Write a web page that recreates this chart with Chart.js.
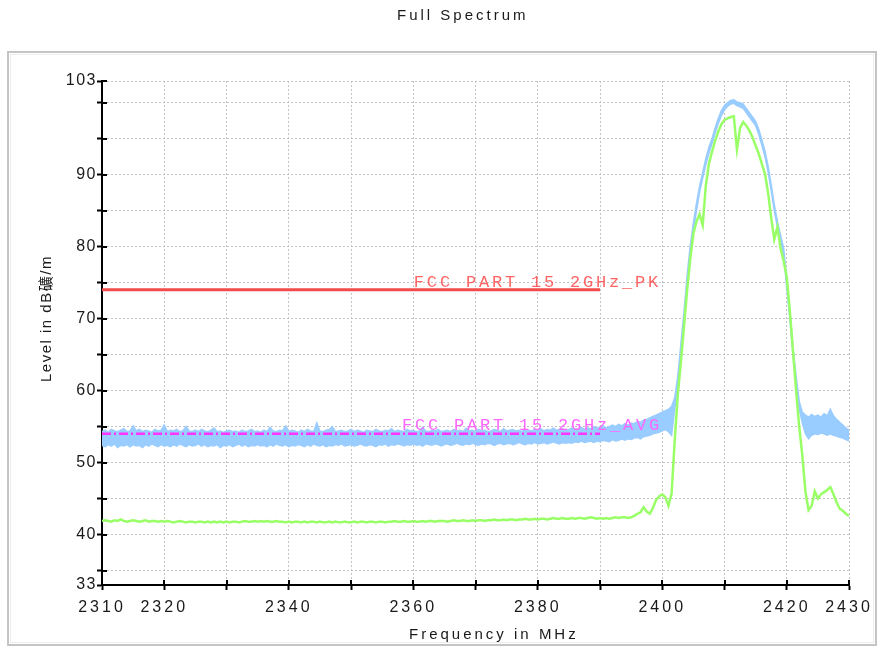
<!DOCTYPE html>
<html>
<head>
<meta charset="utf-8">
<script src="https://cdn.jsdelivr.net/npm/chart.js@4.4.0/dist/chart.umd.min.js"></script>
<style>
  html, body { margin: 0; padding: 0; background: #fff; }
  canvas { display: block; }
</style>
</head>
<body>
<canvas id="myChart" width="878" height="646"></canvas>
<script>
// sweep: 2310 MHz .. 2430 MHz, one reading every 0.5 MHz
var sweepStart = 2310;
var sweepStep = 0.5;

// peak detector trace (max hold), upper and lower edge of the noisy band
var peakMax = [
    54.3, 54.5, 54.2, 54.6, 54.4, 54.3, 54.5, 54.7, 54.3, 54.4,
    55.1, 54.4, 54.6, 54.3, 54.5, 54.4, 54.2, 54.6, 54.4, 54.5,
    55.2, 54.3, 54.5, 54.4, 54.6, 54.3, 54.4, 55.0, 54.4, 54.3,
    54.5, 54.3, 54.6, 54.4, 54.3, 54.5, 54.8, 54.3, 54.4, 54.2,
    54.4, 54.5, 54.3, 54.4, 54.2, 54.5, 54.3, 54.4, 54.6, 54.3,
    54.4, 54.2, 54.5, 54.3, 54.9, 54.4, 54.3, 54.5, 54.4, 55.1,
    54.3, 54.5, 54.4, 54.2, 54.5, 54.3, 54.6, 54.4, 54.3, 55.5,
    54.4, 54.3, 54.5, 54.6, 55.0, 54.3, 54.4, 54.5, 54.3, 54.4,
    54.6, 54.3, 54.5, 54.4, 54.2, 54.5, 54.4, 54.3, 54.6, 54.4,
    54.3, 54.5, 54.4, 54.7, 54.3, 54.5, 54.4, 54.3, 54.6, 54.4,
    54.5, 54.3, 54.4, 54.9, 54.4, 54.3, 54.5, 54.4, 54.6, 54.3,
    54.4, 54.5, 54.3, 54.6, 54.4, 54.5, 54.3, 54.8, 54.4, 54.5,
    54.3, 54.6, 54.4, 54.5, 54.3, 54.4, 54.6, 54.5, 54.3, 54.7,
    54.4, 54.5, 54.6, 54.4, 54.5, 54.3, 54.6, 54.5, 54.4, 54.6,
    54.5, 54.7, 54.4, 54.6, 54.5, 54.8, 54.5, 54.6, 54.7, 54.5,
    54.6, 54.8, 54.6, 54.7, 54.9, 54.6, 54.8, 54.7, 55.0, 54.8,
    54.9, 55.1, 54.8, 55.0, 55.2, 55.0, 55.3, 55.1, 55.4, 55.2,
    55.5, 55.4, 55.7, 55.6, 55.9, 56.0, 56.2, 56.4, 56.6, 56.8,
    57.0, 57.2, 57.4, 57.8, 59.0, 62.0, 66.5, 71.0, 76.0, 80.1,
    83.3, 86.0, 88.4, 90.3, 92.2, 93.8, 95.0, 96.5, 97.8, 98.9,
    99.6, 100.0, 100.3, 100.4, 100.1, 100.0, 99.8, 99.2, 98.6, 98.0,
    97.4, 96.3, 94.8, 93.3, 91.2, 88.6, 85.8, 83.5, 81.6, 79.8,
    75.3, 71.0, 66.0, 62.0, 58.5, 57.0, 56.6, 56.3, 56.7, 56.4,
    56.6, 56.3, 56.8, 56.5, 57.4, 56.5, 56.0, 55.6, 55.2, 54.8,
    54.5
];
var peakMin = [
    52.4, 52.2, 52.5, 52.3, 52.6, 52.1, 52.4, 52.3, 52.5, 52.2,
    52.5, 52.3, 52.4, 52.1, 52.5, 52.3, 52.6, 52.4, 52.2, 52.5,
    52.3, 52.4, 52.2, 52.5, 52.3, 52.6, 52.4, 52.2, 52.5, 52.3,
    52.4, 52.6, 52.3, 52.5, 52.2, 52.4, 52.3, 52.5, 52.1, 52.4,
    52.3, 52.5, 52.2, 52.4, 52.6, 52.3, 52.5, 52.2, 52.4, 52.3,
    52.5, 52.3, 52.4, 52.2, 52.5, 52.3, 52.6, 52.4, 52.3, 52.5,
    52.2, 52.4, 52.3, 52.5, 52.4, 52.2, 52.5, 52.3, 52.6, 52.4,
    52.3, 52.5, 52.2, 52.4, 52.3, 52.5, 52.4, 52.6, 52.3, 52.4,
    52.5, 52.3, 52.4, 52.6, 52.4, 52.3, 52.5, 52.4, 52.2, 52.5,
    52.4, 52.6, 52.3, 52.5, 52.4, 52.6, 52.5, 52.3, 52.5, 52.4,
    52.6, 52.4, 52.5, 52.3, 52.6, 52.5, 52.4, 52.6, 52.5, 52.3,
    52.5, 52.6, 52.4, 52.5, 52.7, 52.5, 52.4, 52.6, 52.5, 52.7,
    52.5, 52.4, 52.6, 52.5, 52.7, 52.6, 52.4, 52.6, 52.7, 52.5,
    52.6, 52.7, 52.5, 52.6, 52.8, 52.6, 52.5, 52.7, 52.6, 52.8,
    52.6, 52.7, 52.8, 52.6, 52.7, 52.9, 52.7, 52.6, 52.8, 52.7,
    52.8, 52.7, 52.9, 52.8, 53.0, 52.8, 52.9, 53.0, 52.8, 53.0,
    52.9, 53.1, 53.0, 52.9, 53.2, 53.0, 53.1, 53.3, 53.1, 53.3,
    53.2, 53.4, 53.5, 53.3, 53.6, 53.7, 53.8, 54.0, 54.1, 54.2,
    54.4, 54.6, 54.3, 53.8, 57.5, 60.5, 65.0, 69.5, 74.5, 79.0,
    82.3, 85.0, 87.6, 89.5, 91.4, 93.0, 94.3, 95.8, 97.1, 98.2,
    99.0, 99.5, 99.8, 99.9, 99.6, 99.4, 99.2, 98.6, 98.0, 97.4,
    96.8, 95.6, 94.1, 92.5, 90.4, 87.8, 85.0, 82.7, 80.8, 78.9,
    74.3, 70.0, 65.0, 61.0, 57.5, 55.5, 54.0, 53.3, 53.8, 54.0,
    53.9, 54.1, 54.0, 53.8, 54.0, 53.8, 53.7, 53.5, 53.4, 53.2,
    53.0
];
// average detector trace
var average = [
    41.9, 42.0, 41.9, 41.8, 42.0, 41.9, 42.1, 41.9, 41.8, 41.9,
    42.0, 41.9, 41.8, 41.9, 42.0, 41.8, 41.9, 41.9, 41.8, 41.9,
    41.8, 41.9, 41.8, 41.7, 41.8, 41.9, 41.8, 41.7, 41.8, 41.8,
    41.7, 41.8, 41.8, 41.7, 41.8, 41.7, 41.8, 41.7, 41.8, 41.7,
    41.8, 41.7, 41.8, 41.8, 41.7, 41.8, 41.9, 41.8, 41.8, 41.9,
    41.8, 41.9, 41.8, 41.9, 41.8, 41.8, 41.9, 41.8, 41.8, 41.7,
    41.8, 41.7, 41.8, 41.8, 41.7, 41.8, 41.7, 41.8, 41.8, 41.7,
    41.8, 41.7, 41.7, 41.8, 41.7, 41.8, 41.7, 41.7, 41.8, 41.7,
    41.7, 41.8, 41.7, 41.8, 41.8, 41.7, 41.8, 41.8, 41.7, 41.8,
    41.8, 41.7, 41.8, 41.8, 41.9, 41.8, 41.8, 41.9, 41.8, 41.8,
    41.9, 41.8, 41.8, 41.9, 41.8, 41.9, 41.9, 41.8, 41.9, 41.9,
    41.9, 41.8, 41.9, 42.0, 41.9, 41.9, 42.0, 41.9, 41.9, 42.0,
    41.9, 42.0, 42.0, 41.9, 42.0, 42.0, 42.1, 42.0, 42.0, 42.1,
    42.0, 42.1, 42.1, 42.0, 42.1, 42.1, 42.2, 42.1, 42.1, 42.2,
    42.1, 42.2, 42.2, 42.1, 42.2, 42.3, 42.2, 42.2, 42.3, 42.2,
    42.2, 42.3, 42.2, 42.3, 42.3, 42.2, 42.3, 42.4, 42.3, 42.2,
    42.3, 42.2, 42.3, 42.2, 42.3, 42.4, 42.3, 42.4, 42.4, 42.3,
    42.4, 42.6, 42.9, 43.1, 43.8, 43.2, 42.9, 43.7, 44.8, 45.3,
    45.6, 45.2, 44.0, 45.7, 53.0, 59.5, 64.0, 69.0, 74.0, 78.3,
    81.8, 83.5, 84.5, 83.0, 88.5, 91.5, 93.2, 94.7, 96.0, 97.0,
    97.6, 97.8, 98.0, 98.1, 93.5, 96.5, 97.3, 96.8, 96.1, 95.2,
    94.0, 92.9, 91.5, 90.1, 87.5, 84.0, 81.0, 82.7, 79.8, 78.0,
    75.8, 71.0, 65.5, 60.0, 55.0, 51.0, 46.0, 43.4, 44.0, 46.0,
    45.0, 45.6, 45.9, 46.2, 46.6, 45.6, 44.5, 43.6, 43.3, 42.9,
    42.6
];

// limit lines
var limitFreq = [2310, 2390];
var pkLimit = [74, 74];
var avgLimit = [54, 54];
var pkLabel = 'FCC PART 15 2GHz_PK';
var avgLabel = 'FCC PART 15 2GHz_AVG';
var pkLabelFreq = 2360.1;
var avgLabelFreq = 2358.2;

// axes
var xTicks = [2310, 2320, 2330, 2340, 2350, 2360, 2370, 2380, 2390, 2400, 2410, 2420, 2430];
var xLabels = [2310, 2320, 2340, 2360, 2380, 2400, 2420, 2430];
var yTicks = [33, 35, 40, 45, 50, 55, 60, 65, 70, 75, 80, 85, 90, 95, 100, 103];
var yLabels = [33, 40, 50, 60, 70, 80, 90, 103];

function sweepPoints(values) {
    return values.map(function (v, i) {
        return { x: sweepStart + i * sweepStep, y: v };
    });
}
function limitPoints(values) {
    return values.map(function (v, i) {
        return { x: limitFreq[i], y: v };
    });
}

function spaceLabels(scale, spacing) {
    if (scale._spaced) return;
    var orig = scale.drawLabels;
    scale.drawLabels = function (area) {
        var c = this.ctx;
        c.save();
        c.letterSpacing = spacing;
        orig.call(this, area);
        c.restore();
    };
    scale._spaced = true;
}

var decoration = {
    id: 'decoration',
    beforeDraw: function (chart) {
        var ctx = chart.ctx;
        ctx.save();
        ctx.fillStyle = '#fff';
        ctx.fillRect(0, 0, chart.width, chart.height);
        // frame round the plot
        ctx.strokeStyle = '#c4c4c4';
        ctx.lineWidth = 2;
        ctx.strokeRect(8, 52, 868, 593);
        ctx.strokeStyle = '#ececec';
        ctx.lineWidth = 1;
        ctx.strokeRect(10.5, 54.5, 863, 588);
        ctx.restore();
        spaceLabels(chart.scales.x, '3px');
        spaceLabels(chart.scales.y, '1.5px');
    },
    afterDatasetsDraw: function (chart) {
        var ctx = chart.ctx;
        var xs = chart.scales.x, ys = chart.scales.y;
        ctx.save();
        ctx.font = '17px "Liberation Mono"';
        ctx.letterSpacing = '2.8px';
        ctx.textAlign = 'left';
        ctx.textBaseline = 'alphabetic';
        ctx.fillStyle = '#ff6464';
        ctx.fillText(pkLabel, xs.getPixelForValue(pkLabelFreq), ys.getPixelForValue(pkLimit[0]) - 3);
        ctx.fillStyle = '#ff66ff';
        ctx.fillText(avgLabel, xs.getPixelForValue(avgLabelFreq), ys.getPixelForValue(avgLimit[0]) - 4);
        ctx.restore();
    },
    afterDraw: function (chart) {
        var ctx = chart.ctx;
        var xs = chart.scales.x, ys = chart.scales.y, a = chart.chartArea;
        ctx.save();
        // tick marks cross the axes: inner halves
        ctx.strokeStyle = '#000';
        ctx.lineWidth = 2;
        ctx.beginPath();
        yTicks.forEach(function (v) {
            var p = Math.round(ys.getPixelForValue(v));
            ctx.moveTo(a.left, p);
            ctx.lineTo(a.left + 5, p);
        });
        xTicks.forEach(function (v) {
            var p = Math.round(xs.getPixelForValue(v));
            ctx.moveTo(p, a.bottom);
            ctx.lineTo(p, a.bottom - 5);
        });
        ctx.stroke();

        // titles
        ctx.fillStyle = '#1a1a1a';
        ctx.textAlign = 'left';
        ctx.textBaseline = 'middle';
        ctx.font = '15px "Liberation Sans"';
        ctx.letterSpacing = '3px';
        ctx.fillText('Full Spectrum', 397, 16);
        ctx.fillText('Frequency in MHz', 409, 635);
        ctx.font = '15px "Liberation Sans", "Noto Sans CJK SC"';
        ctx.letterSpacing = '1.5px';
        ctx.translate(47, 382);
        ctx.rotate(-Math.PI / 2);
        ctx.fillText('Level in dB礦/m', 0, 0);
        ctx.restore();
    }
};

var ctx = document.getElementById('myChart');

var chart = new Chart(ctx, {
    type: 'line',
    data: {
        datasets: [
            {
                label: avgLabel,
                data: limitPoints(avgLimit),
                borderColor: '#ff33ff',
                borderWidth: 2.5,
                borderDash: [9, 3, 2, 3],
                fill: false
            },
            {
                label: pkLabel,
                data: limitPoints(pkLimit),
                borderColor: '#f24b4b',
                borderWidth: 3,
                fill: false
            },
            {
                label: 'Average',
                data: sweepPoints(average),
                borderColor: '#99ff66',
                borderWidth: 2.5,
                fill: false
            },
            {
                label: 'Peak max',
                data: sweepPoints(peakMax),
                borderColor: '#99ccff',
                backgroundColor: '#99ccff',
                borderWidth: 1.5,
                fill: '+1'
            },
            {
                label: 'Peak min',
                data: sweepPoints(peakMin),
                borderColor: '#99ccff',
                borderWidth: 1.5,
                fill: false
            }
        ]
    },
    options: {
        responsive: false,
        animation: false,
        devicePixelRatio: 1,
        layout: { padding: { top: 81, right: 29, bottom: 0, left: 0 } },
        elements: {
            point: { radius: 0 },
            line: { tension: 0 }
        },
        plugins: {
            legend: { display: false },
            tooltip: { enabled: false },
            title: { display: false }
        },
        scales: {
            x: {
                type: 'linear',
                min: 2310,
                max: 2430,
                afterBuildTicks: function (s) {
                    s.ticks = xTicks.map(function (v) { return { value: v }; });
                },
                afterFit: function (s) { s.height = 61; },
                ticks: {
                    autoSkip: false,
                    maxRotation: 0,
                    padding: 8,
                    color: '#1a1a1a',
                    font: { family: 'Liberation Sans', size: 16 },
                    callback: function (v) { return xLabels.indexOf(v) >= 0 ? String(v) : ''; }
                },
                grid: { color: '#c4c4c4', lineWidth: 1, tickLength: 5, tickColor: '#000', tickWidth: 2 },
                border: { color: '#000', width: 2, dash: [2, 2] }
            },
            y: {
                min: 33,
                max: 103,
                afterBuildTicks: function (s) {
                    s.ticks = yTicks.map(function (v) { return { value: v }; });
                },
                afterFit: function (s) { s.width = 102; },
                ticks: {
                    autoSkip: false,
                    padding: 0,
                    color: '#1a1a1a',
                    font: { family: 'Liberation Sans', size: 16 },
                    callback: function (v) { return yLabels.indexOf(v) >= 0 ? String(v) : ''; }
                },
                grid: { color: '#c4c4c4', lineWidth: 1, tickLength: 5, tickColor: '#000', tickWidth: 2 },
                border: { color: '#000', width: 2, dash: [2, 2] }
            }
        }
    },
    plugins: [decoration]
});
</script>
</body>
</html>
